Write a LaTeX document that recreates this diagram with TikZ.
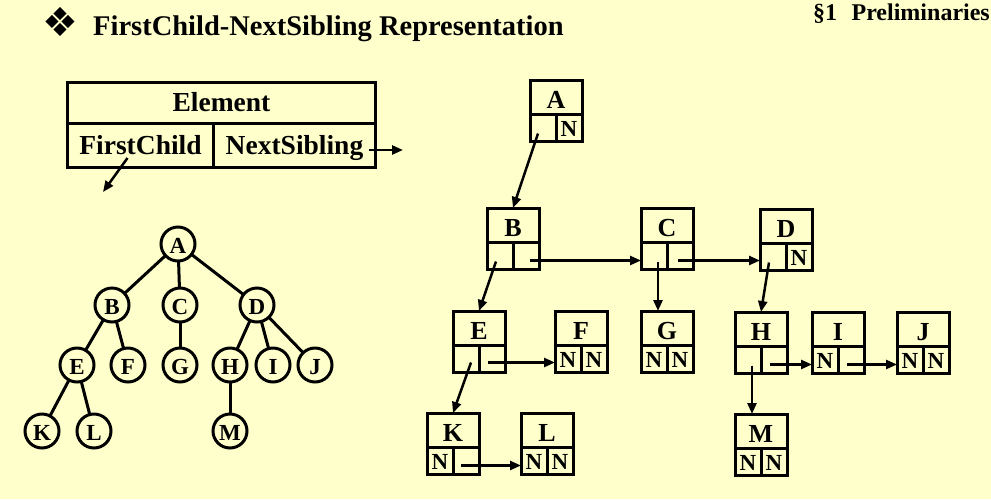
\documentclass[tikz,border=0pt]{standalone}
\usepackage{fontspec}
\setmainfont{Liberation Serif}
\newfontfamily\dingfont{DejaVu Sans}
\usepackage{xcolor}
\usetikzlibrary{arrows.meta,positioning}
\definecolor{paper}{HTML}{FFFFCC}
\tikzset{
    tree-node/.style = {draw, circle, line width=3pt, minimum size=34pt, inner sep=0pt, outer sep=0pt, text height=18pt, text depth=0pt, font=\fontsize{23}{23}\selectfont\bfseries},
    tree-edge/.style = {line width=3pt},
    key-cell/.style = {draw, line width=3pt, minimum width=52pt, minimum height=34pt, inner sep=0pt, outer sep=0pt, text height=22pt, text depth=0pt, font=\fontsize{26}{26}\selectfont\bfseries},
    link-cell/.style = {draw, line width=3pt, minimum width=26pt, minimum height=27pt, inner sep=0pt, outer sep=0pt, text height=17pt, text depth=0pt, font=\fontsize{23}{23}\selectfont\bfseries},
    field-box/.style = {draw, line width=3pt, inner sep=0pt, outer sep=0pt, text height=18pt, text depth=0pt, font=\fontsize{27.5}{27.5}\selectfont\bfseries},
    pointer/.style = {line width=2.5pt, -{Triangle[length=11pt,width=9pt]}},
}
\newcommand{\csnode}[5]{%
    \node[key-cell] (#1) at (#2) {#3};
    \node[link-cell, anchor=north east] (#1l) at (#1.south) {#4};
    \node[link-cell, anchor=north west] (#1r) at (#1.south) {#5};
}

\begin{document}
\begin{tikzpicture}[x=1pt, y=-1pt]
\fill[paper] (0,0) rectangle (991,499);
\useasboundingbox (0,0) rectangle (991,499);

\node[font=\dingfont\fontsize{40}{40}\selectfont, inner sep=0pt] (bullet) at (60,22) {❖};
\node[anchor=base west, inner sep=0pt, font=\fontsize{28.5}{28.5}\selectfont\bfseries] (title) at (93,35) {FirstChild-NextSibling Representation};
\node[anchor=base west, inner sep=0pt, font=\fontsize{24}{24}\selectfont\bfseries] (section) at (813,20) {§1\hspace{0.6em}Preliminaries};

\node[field-box, minimum width=308pt, minimum height=41pt] (elem) at (221.5,102.5) {Element};
\node[field-box, anchor=north west, minimum width=146pt, minimum height=44pt] (fc) at (elem.south west) {FirstChild};
\node[field-box, anchor=north east, minimum width=162pt, minimum height=44pt] (ns) at (elem.south east) {NextSibling};
\coordinate (fc-end) at (103,192);
\coordinate (ns-end) at (403,150);
\draw[pointer] ([shift={(-13pt,-13pt)}]fc.center) -- (fc-end);
\draw[pointer] ([shift={(-7pt,-5pt)}]ns.east) -- (ns-end);

\node[tree-node] (tA) at (178,244) {A};
\node[tree-node] (tB) at (112,305) {B};
\node[tree-node] (tC) at (180,305) {C};
\node[tree-node] (tD) at (257,305) {D};
\node[tree-node] (tE) at (77,365) {E};
\node[tree-node] (tF) at (128,365) {F};
\node[tree-node] (tG) at (180,365) {G};
\node[tree-node] (tH) at (230,365) {H};
\node[tree-node] (tI) at (273,365) {I};
\node[tree-node] (tJ) at (315,365) {J};
\node[tree-node] (tK) at (42,431) {K};
\node[tree-node] (tL) at (94,431) {L};
\node[tree-node] (tM) at (230,431) {M};
\foreach \p/\c in {tA/tB, tA/tC, tA/tD, tB/tE, tB/tF, tC/tG, tD/tH, tD/tI, tD/tJ, tE/tK, tE/tL, tH/tM}
    \draw[tree-edge] (\p) -- (\c);

\csnode{A}{556,97}{A}{}{N}
\csnode{B}{513,225}{B}{}{}
\csnode{C}{667,225}{C}{}{}
\csnode{D}{786,226}{D}{}{N}
\csnode{E}{479,328}{E}{}{}
\csnode{F}{581,328}{F}{N}{N}
\csnode{G}{667,328}{G}{N}{N}
\csnode{H}{761,329}{H}{}{}
\csnode{I}{838,329}{I}{N}{}
\csnode{J}{923,329}{J}{N}{N}
\csnode{K}{453,430}{K}{N}{}
\csnode{L}{547,430}{L}{N}{N}
\csnode{M}{761,431}{M}{N}{N}

\draw[pointer] ([shift={(-5pt,-6pt)}]Al.center) -- (B.north);
\draw[pointer] ([shift={(-4pt,-6pt)}]Bl.center) -- (E.north);
\draw[pointer] ([shift={(-4pt,-6pt)}]Dl.center) -- (H.north);
\draw[pointer] ([shift={(5pt,-4pt)}]El.center) -- (K.north);
\draw[pointer] ([shift={(4pt,-6pt)}]Cl.center) coordinate (s) -- (s |- G.north);
\draw[pointer] ([shift={(4pt,-6pt)}]Hl.center) coordinate (s) -- (s |- M.north);
\draw[pointer] ([shift={(4pt,-5pt)}]Br.center) coordinate (s) -- (s -| Cl.west);
\draw[pointer] ([shift={(-2pt,-5pt)}]Cr.center) coordinate (s) -- (s -| Dl.west);
\draw[pointer] ([shift={(-4pt,-4pt)}]Er.center) coordinate (s) -- (s -| Fl.west);
\draw[pointer] ([shift={(-4pt,-5pt)}]Hr.center) coordinate (s) -- (s -| Il.west);
\draw[pointer] ([shift={(-4pt,-5pt)}]Ir.center) coordinate (s) -- (s -| Jl.west);
\draw[pointer] ([shift={(-5pt,-5pt)}]Kr.center) coordinate (s) -- (s -| Ll.west);
\end{tikzpicture}
\end{document}
